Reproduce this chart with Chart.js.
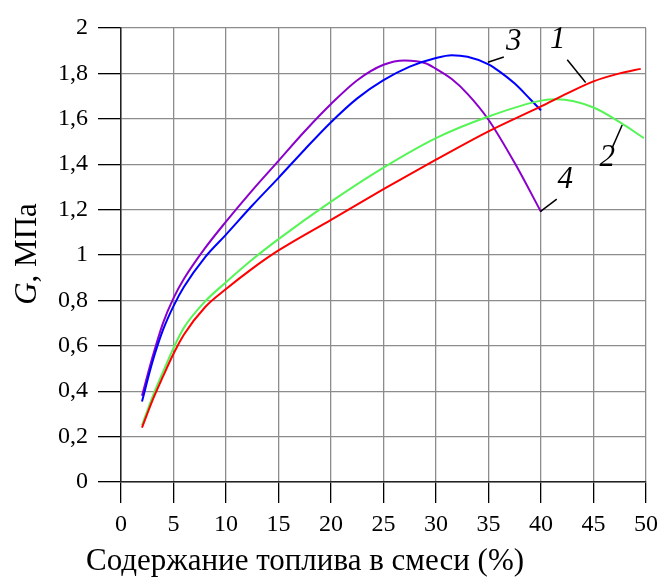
<!DOCTYPE html>
<html>
<head>
<meta charset="utf-8">
<script src="https://cdn.jsdelivr.net/npm/chart.js@4/dist/chart.umd.min.js"></script>
<style>
  html, body { margin: 0; padding: 0; background: #fff; }
  #wrap { width: 665px; height: 578px; position: relative; }
  .fontprobe { position: absolute; left: -9999px; font-family: "Liberation Serif"; }
</style>
</head>
<body>
<div id="wrap"><canvas id="chart"></canvas></div>
<span class="fontprobe">Содержание 0,8 <i>G</i></span>
<script>
// Данные (содержание топлива, %; G, МПа)
const xTicks = [0, 5, 10, 15, 20, 25, 30, 35, 40, 45, 50];
const yTicks = [0, 0.2, 0.4, 0.6, 0.8, 1, 1.2, 1.4, 1.6, 1.8, 2];

// кривая 1 (красная)
const x1 = [2, 3, 4, 5, 6, 8, 10, 12.5, 15, 20, 25, 30, 35, 40, 42.5, 45, 47.5, 49.5];
const y1 = [0.24, 0.36, 0.465, 0.565, 0.65, 0.77, 0.85, 0.94, 1.02, 1.155, 1.29, 1.42, 1.545, 1.655, 1.712, 1.765, 1.80, 1.82];

// кривая 2 (зелёная)
const x2 = [2, 3, 4, 5, 6, 8, 10, 12.5, 15, 20, 25, 30, 35, 40, 41.5, 45, 47.5, 49.8];
const y2 = [0.25, 0.375, 0.485, 0.59, 0.68, 0.795, 0.88, 0.98, 1.07, 1.235, 1.385, 1.515, 1.61, 1.68, 1.686, 1.65, 1.585, 1.515];

// кривая 3 (синяя)
const x3 = [2, 3, 4, 5, 6, 8, 10, 12.5, 15, 17.5, 20, 22.5, 25, 27.5, 30, 31.5, 33, 35, 36, 37.5, 39, 40];
const y3 = [0.355, 0.53, 0.67, 0.775, 0.86, 0.99, 1.09, 1.218, 1.34, 1.465, 1.585, 1.69, 1.77, 1.83, 1.868, 1.88, 1.873, 1.84, 1.81, 1.755, 1.685, 1.637];

// кривая 4 (фиолетовая)
const x4 = [2, 3, 4, 5, 6, 8, 10, 12.5, 15, 17.5, 20, 22.5, 25, 27, 29, 30, 31.5, 33, 35, 37.5, 40];
const y4 = [0.38, 0.55, 0.70, 0.81, 0.895, 1.03, 1.147, 1.285, 1.415, 1.545, 1.665, 1.77, 1.838, 1.857, 1.845, 1.82, 1.775, 1.71, 1.596, 1.405, 1.19];

// подписи кривых: номер, позиция текста и выноска (в единицах осей)
const curveLabels = [
    { text: '1', tx: 41.6, ty: 1.95, line: [[42.5, 1.86], [44.25, 1.76]] },
    { text: '2', tx: 46.3, ty: 1.43, line: [[47.73, 1.573], [46.78, 1.472]] },
    { text: '3', tx: 37.4, ty: 1.94, line: [[34.94, 1.849], [36.46, 1.872]] },
    { text: '4', tx: 42.3, ty: 1.33, line: [[39.93, 1.191], [41.5, 1.246]] }
];

const serif = '"Liberation Serif", "Times New Roman", Times, serif';

function pts(xs, ys) {
    return xs.map((x, i) => ({ x: x, y: ys[i] }));
}

function line(xs, ys, color) {
    return {
        data: pts(xs, ys),
        borderColor: color,
        borderWidth: 2,
        pointRadius: 0,
        fill: false,
        cubicInterpolationMode: 'monotone'
    };
}

// Подписи осей и номера кривых
const decorPlugin = {
    id: 'decor',
    afterDraw(chart) {
        const ctx = chart.ctx;
        const sx = chart.scales.x, sy = chart.scales.y;
        ctx.save();
        ctx.fillStyle = '#000';
        ctx.strokeStyle = '#000';
        ctx.lineWidth = 1.5;

        curveLabels.forEach(l => {
            ctx.beginPath();
            ctx.moveTo(sx.getPixelForValue(l.line[0][0]), sy.getPixelForValue(l.line[0][1]));
            ctx.lineTo(sx.getPixelForValue(l.line[1][0]), sy.getPixelForValue(l.line[1][1]));
            ctx.stroke();
            ctx.font = 'italic 31px ' + serif;
            ctx.textAlign = 'center';
            ctx.textBaseline = 'middle';
            ctx.fillText(l.text, sx.getPixelForValue(l.tx), sy.getPixelForValue(l.ty));
        });

        // подпись оси X
        ctx.font = '31px ' + serif;
        ctx.textAlign = 'center';
        ctx.textBaseline = 'middle';
        ctx.fillText('Содержание топлива в смеси (%)', 305, 562);

        // подпись оси Y: курсивная G + ", МПа"
        ctx.translate(28, 254);
        ctx.rotate(-Math.PI / 2);
        const fItalic = 'italic 31px ' + serif;
        const fNormal = '31px ' + serif;
        ctx.font = fItalic;
        const wG = ctx.measureText('G').width;
        ctx.font = fNormal;
        const wRest = ctx.measureText(', МПа').width;
        const start = -(wG + wRest) / 2;
        ctx.textAlign = 'left';
        ctx.font = fItalic;
        ctx.fillText('G', start, 0);
        ctx.font = fNormal;
        ctx.fillText(', МПа', start + wG, 0);
        ctx.restore();
    }
};

function drawChart() {
    const ctx = document.getElementById('chart').getContext('2d');
    new Chart(ctx, {
        type: 'line',
        data: {
            datasets: [
                line(x1, y1, '#ff0000'),
                line(x2, y2, '#55f555'),
                line(x3, y3, '#0000ff'),
                line(x4, y4, '#8a00cc')
            ]
        },
        options: {
            responsive: true,
            maintainAspectRatio: false,
            animation: false,
            layout: { padding: { left: 0, top: 28, right: 16, bottom: 0 } },
            plugins: {
                legend: { display: false },
                tooltip: { enabled: false }
            },
            scales: {
                x: {
                    type: 'linear',
                    min: 0,
                    max: 50,
                    afterBuildTicks: s => { s.ticks = xTicks.map(v => ({ value: v })); },
                    afterFit: s => { s.height = 96; },
                    grid: { color: '#8c8c8c', lineWidth: 1.3, tickLength: 21, tickColor: '#000', tickWidth: 1.3 },
                    border: { color: '#222', width: 1.5 },
                    ticks: {
                        color: '#000',
                        padding: 7,
                        maxRotation: 0,
                        autoSkip: false,
                        font: { family: serif, size: 24 }
                    }
                },
                y: {
                    type: 'linear',
                    min: 0,
                    max: 2,
                    afterBuildTicks: s => { s.ticks = yTicks.map(v => ({ value: v })); },
                    afterFit: s => { s.width = 121; },
                    grid: { color: '#8c8c8c', lineWidth: 1.3, tickLength: 23, tickColor: '#000', tickWidth: 1.3 },
                    border: { color: '#222', width: 1.5 },
                    ticks: {
                        color: '#000',
                        padding: 10,
                        autoSkip: false,
                        font: { family: serif, size: 24 },
                        callback: v => String(v).replace('.', ',')
                    }
                }
            }
        },
        plugins: [decorPlugin]
    });
}

document.addEventListener('DOMContentLoaded', function() {
    Promise.all([
        document.fonts.load('24px "Liberation Serif"', 'Содержание 0,8'),
        document.fonts.load('italic 28px "Liberation Serif"', 'G1234')
    ]).catch(() => {}).then(drawChart);
});
</script>
</body>
</html>
